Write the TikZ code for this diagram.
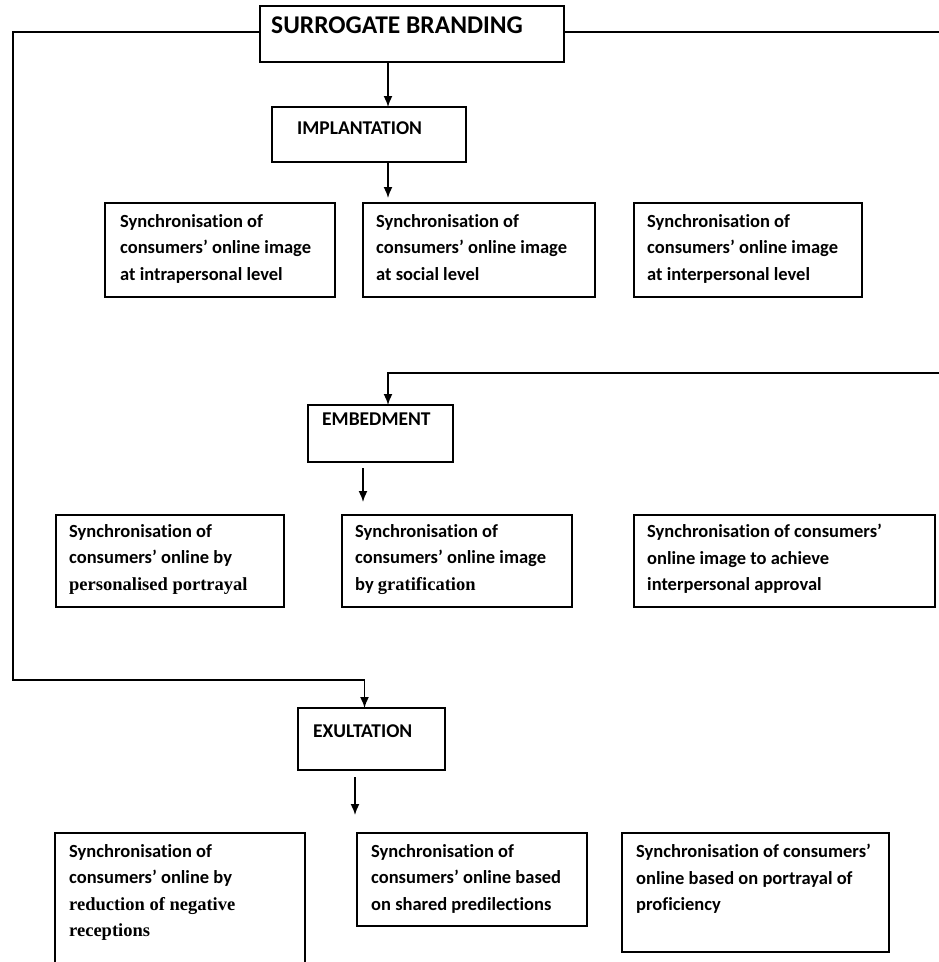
\documentclass[tikz,border=0pt]{standalone}
\usepackage{fontspec}
\setmainfont[Ligatures=NoCommon]{Carlito}
\newfontfamily\serifb{Liberation Serif}
\usetikzlibrary{arrows.meta,calc}
\begin{document}
\begin{tikzpicture}[x=1pt,y=-1pt,
 box/.style={draw, line width=1.6pt, anchor=north west, inner sep=0pt, outer sep=0pt},
 txt/.style={anchor=north west, inner sep=0pt, align=left, font=\bfseries\fontsize{18.5}{26.5}\selectfont},
 head/.style={anchor=west, inner sep=0pt, font=\bfseries\fontsize{19.5}{22}\selectfont},
 conn/.style={line width=1.6pt},
 arr/.style={conn, -{Latex[length=11pt,width=9pt]}}]
\useasboundingbox (0,0) rectangle (939,962);
\clip (0,0) rectangle (939,962);
% boxes
\node[box, minimum width=304pt, minimum height=56pt] (sb) at (260,6) {};
\node[box, minimum width=194pt, minimum height=55pt] (imp) at (272,107) {};
\node[box, minimum width=230pt, minimum height=94pt] (b11) at (105,203) {};
\node[box, minimum width=232pt, minimum height=94pt] (b12) at (363,203) {};
\node[box, minimum width=228pt, minimum height=94pt] (b13) at (634,203) {};
\node[box, minimum width=145pt, minimum height=57pt] (emb) at (308,405) {};
\node[box, minimum width=228pt, minimum height=92pt] (b21) at (56,515) {};
\node[box, minimum width=230pt, minimum height=92pt] (b22) at (342,515) {};
\node[box, minimum width=301pt, minimum height=92pt] (b23) at (634,515) {};
\node[box, minimum width=147pt, minimum height=62pt] (ex) at (298,708) {};
\node[box, minimum width=250pt, minimum height=150pt] (b31) at (55,833) {};
\node[box, minimum width=230pt, minimum height=93pt] (b32) at (357,833) {};
\node[box, minimum width=267pt, minimum height=119pt] (b33) at (622,833) {};
% headings
\node[anchor=base west, inner sep=0pt, font=\bfseries\fontsize{25.5}{28}\selectfont] (tsb) at (271,33) {SURROGATE BRANDING};
\node[head] (timp) at (297,128) {IMPLANTATION};
\node[head] (temb) at (322,419) {EMBEDMENT};
\node[head] (tex) at (313,731) {EXULTATION};
% texts
\node[txt] (t11) at ($(b11.north west)+(15,11)$) {Synchronisation of\\consumers’ online image\\at intrapersonal level};
\node[txt] (t12) at ($(b12.north west)+(13,11)$) {Synchronisation of\\consumers’ online image\\at social level};
\node[txt] (t13) at ($(b13.north west)+(13,11)$) {Synchronisation of\\consumers’ online image\\at interpersonal level};
\node[txt] (t21) at ($(b21.north west)+(13,9)$) {Synchronisation of\\consumers’ online by\\{\serifb personalised portrayal}};
\node[txt] (t22) at ($(b22.north west)+(13,9)$) {Synchronisation of\\consumers’ online image\\by {\serifb gratification}};
\node[txt] (t23) at ($(b23.north west)+(13,9)$) {Synchronisation of consumers’\\online image to achieve\\interpersonal approval};
\node[txt] (t31) at ($(b31.north west)+(14,11)$) {Synchronisation of\\consumers’ online by\\{\serifb reduction of negative}\\{\serifb receptions}};
\node[txt] (t32) at ($(b32.north west)+(14,11)$) {Synchronisation of\\consumers’ online based\\on shared predilections};
\node[txt] (t33) at ($(b33.north west)+(14,11)$) {Synchronisation of consumers’\\online based on portrayal of\\proficiency};
% coordinates
\coordinate (ax) at (388,0);
\coordinate (L) at (13,680);
\coordinate (R1) at (939,32);
\coordinate (R2) at (939,373);
\coordinate (e1) at (363,468);
\coordinate (e2) at (363,502);
\coordinate (x1) at (355,777);
\coordinate (x2) at (355,815);
% connectors
\draw[conn] (sb.east |- R1) -- (R1);
\draw[arr] (sb.west |- R1) -| (L) -| ([xshift=-7pt]ex.north);
\draw[arr] (sb.south -| ax) -- (imp.north -| ax);
\draw[arr, shorten >=5pt] (imp.south -| ax) -- (b12.north -| ax);
\draw[arr] (R2) -| (emb.north -| ax);
\draw[arr] (e1) -- (e2);
\draw[arr] (x1) -- (x2);
\end{tikzpicture}
\end{document}
